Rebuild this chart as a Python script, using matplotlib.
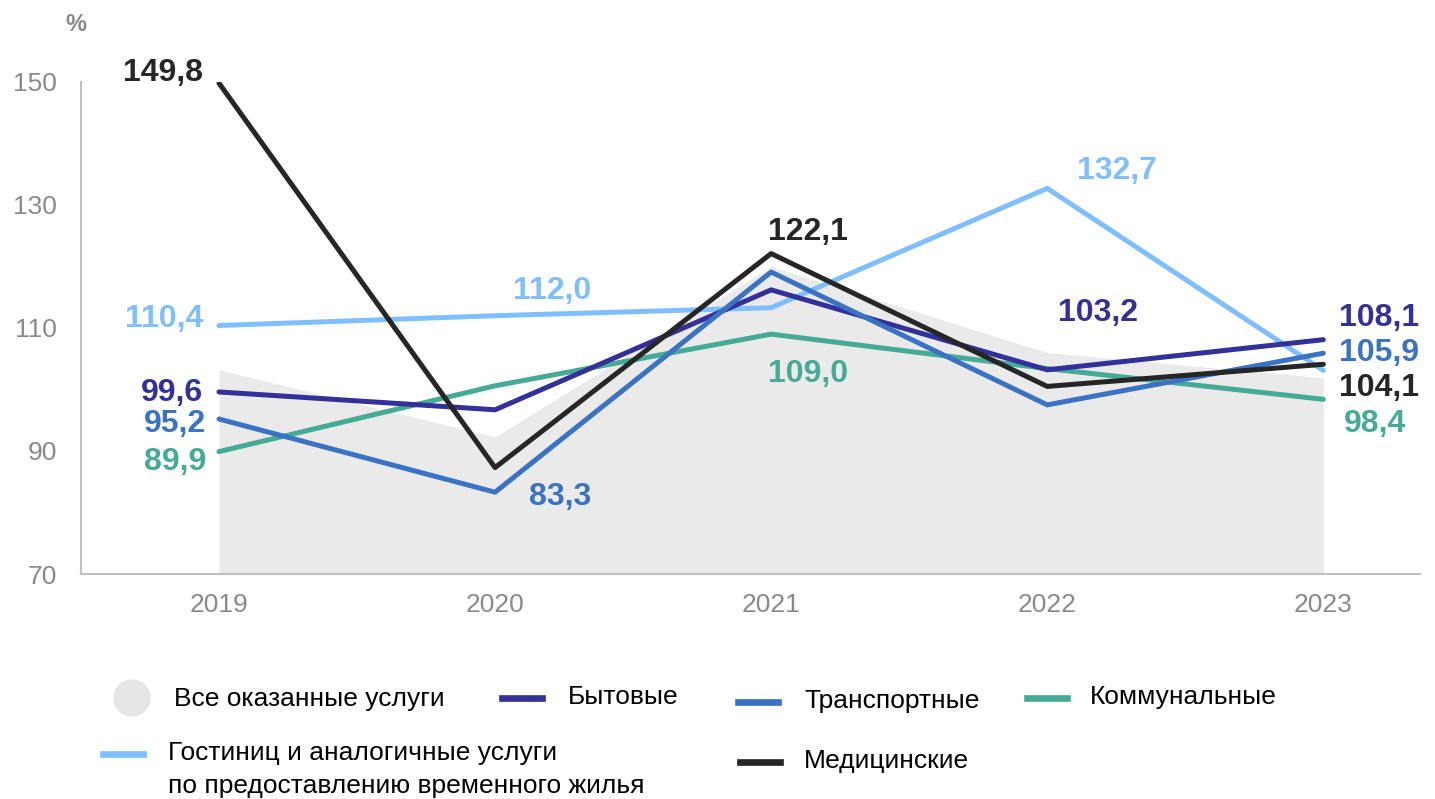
"""Индексы физического объёма платных услуг населению, 2019-2023."""
import matplotlib
matplotlib.use("Agg")
import matplotlib.pyplot as plt
from matplotlib.lines import Line2D
from matplotlib.patches import Ellipse

plt.rcParams["font.family"] = ["Liberation Sans", "DejaVu Sans"]

years = ["2019", "2020", "2021", "2022", "2023"]
all_services = [103.2, 92.3, 120.0, 106.0, 101.9]
household = [99.6, 96.7, 116.2, 103.2, 108.1]
transport = [95.2, 83.3, 119.1, 97.5, 105.9]
communal = [89.9, 100.6, 109.0, 103.4, 98.4]
hotels = [110.4, 112.0, 113.3, 132.7, 103.1]
medical = [149.8, 87.3, 122.1, 100.5, 104.1]

C_GRAY = "#eaeaea"
C_HOUSE = "#33309a"
C_TRANS = "#3a72c4"
C_COMM = "#45aa96"
C_HOTEL = "#80bfff"
C_MED = "#262626"
C_TICK = "#8a8a8a"

fig = plt.figure(figsize=(14.35, 7.99), dpi=100)
ax = fig.add_axes([0.0564, 0.2816, 0.9331, 0.6158])
x = range(len(years))

ax.fill_between(x, all_services, 70, color=C_GRAY, lw=0, zorder=1)
lw = 3.6
ax.plot(x, hotels, color=C_HOTEL, lw=lw, solid_capstyle="round", zorder=2)
ax.plot(x, communal, color=C_COMM, lw=lw, solid_capstyle="round", zorder=3)
ax.plot(x, household, color=C_HOUSE, lw=lw, solid_capstyle="round", zorder=4)
ax.plot(x, transport, color=C_TRANS, lw=lw, solid_capstyle="round", zorder=5)
ax.plot(x, medical, color=C_MED, lw=lw, solid_capstyle="round", zorder=6)

ax.set_xlim(-0.5, 4.35)
ax.set_ylim(70, 150)
ax.set_yticks([70, 90, 110, 130, 150])
ax.set_xticks(list(x))
ax.set_xticklabels(years)
ax.tick_params(length=0, labelsize=19, colors=C_TICK)
ax.tick_params(axis="x", pad=14)
ax.tick_params(axis="y", pad=17)
for s in ["top", "right"]:
    ax.spines[s].set_visible(False)
for s in ["left", "bottom"]:
    ax.spines[s].set_color("#c0c0c0")
    ax.spines[s].set_linewidth(1.5)
fig.text(0.053, 0.969, "%", fontsize=17, color=C_TICK, fontweight="bold",
         ha="center", va="center")

# data labels: (series, index, dx px, dy px, ha, colour)
labels = [
    (medical, 0, -16, 10, "right", C_MED),
    (hotels, 0, -16, 7, "right", C_HOTEL),
    (household, 0, -16, -1, "right", C_HOUSE),
    (transport, 0, -13, -5, "right", C_TRANS),
    (communal, 0, -13, -10, "right", C_COMM),
    (hotels, 1, 57, 25, "center", C_HOTEL),
    (transport, 1, 65, -5, "center", C_TRANS),
    (medical, 2, 37, 22, "center", C_MED),
    (communal, 2, 37, -40, "center", C_COMM),
    (hotels, 3, 70, 17, "center", C_HOTEL),
    (household, 3, 51, 57, "center", C_HOUSE),
    (household, 4, 16, 22, "left", C_HOUSE),
    (transport, 4, 16, 0, "left", C_TRANS),
    (medical, 4, 16, -24, "left", C_MED),
    (communal, 4, 21, -25, "left", C_COMM),
]
for series, i, dx, dy, ha, col in labels:
    ax.annotate(f"{series[i]:.1f}".replace(".", ","), (i, series[i]),
                xytext=(dx, dy), textcoords="offset pixels", ha=ha,
                va="center", fontsize=23, fontweight="bold", color=col,
                zorder=10, annotation_clip=False)


def fx(px):
    return px / 1435


def fy(py):
    return 1 - py / 799


# legend, laid out by hand like the source
fig.patches.append(Ellipse((fx(132), fy(698)), 36 / 1435, 36 / 799,
                           transform=fig.transFigure, color="#e6e6e6"))
items = [
    (502, 698, C_HOUSE, 568, ["Бытовые"]),
    (738, 702, C_TRANS, 804, ["Транспортные"]),
    (1027, 698, C_COMM, 1090, ["Коммунальные"]),
    (103, 754, C_HOTEL, 168, ["Гостиниц и аналогичные услуги",
                              "по предоставлению временного жилья"]),
    (740, 762, C_MED, 804, ["Медицинские"]),
]
fig.text(fx(174), fy(699), "Все оказанные услуги", fontsize=19, va="center")
for hx, hy, col, tx, lines in items:
    fig.lines.append(Line2D([fx(hx), fx(hx + 40)], [fy(hy), fy(hy)],
                            transform=fig.transFigure, color=col, lw=4.8))
    for k, txt in enumerate(lines):
        fig.text(fx(tx), fy(hy - 1 + 33 * k), txt, fontsize=19, va="center")

fig.savefig("out.png", dpi=100)
